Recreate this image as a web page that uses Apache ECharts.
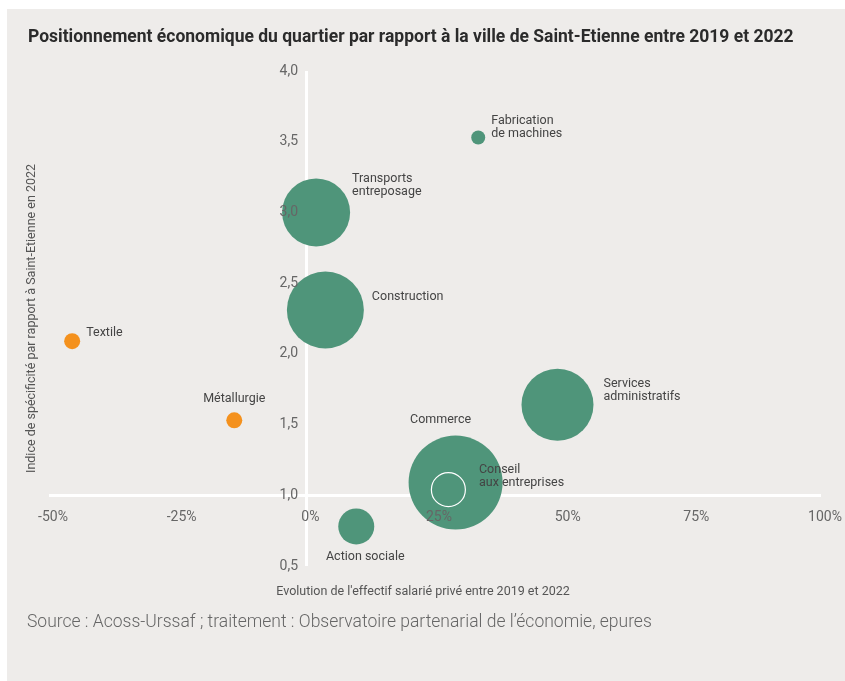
<!DOCTYPE html>
<html>
<head>
<meta charset="utf-8">
<script src="https://cdn.jsdelivr.net/npm/echarts@6/dist/echarts.min.js"></script>
<style>
  html, body { margin: 0; padding: 0; background: #fff; }
  #chart { width: 845px; height: 681px; }
</style>
</head>
<body>
<div id="chart"></div>
<script>
// données
const secteurs = ['Fabrication de machines', 'Transports entreposage', 'Construction', 'Textile',
  'Métallurgie', 'Services administratifs', 'Commerce', 'Conseil aux entreprises', 'Action sociale'];
const etiquettes = ['Fabrication\nde machines', 'Transports\nentreposage', 'Construction', 'Textile',
  'Métallurgie', 'Services\nadministratifs', 'Commerce', 'Conseil\naux entreprises', 'Action sociale'];
const evolution = [33.4, 1.9, 3.7, -45.5, -14.0, 48.8, 29.0, 27.6, 9.7];      // %
const specificite = [3.53, 3.0, 2.31, 2.09, 1.53, 1.64, 1.09, 1.04, 0.78];
const effectifs = [49, 1156, 1482, 64, 64, 1296, 2209, 289, 324];
const types = ['vert', 'vert', 'vert', 'orange', 'orange', 'vert', 'vert', 'contour', 'vert'];
const xTicks = [-50, -25, 0, 25, 50, 75, 100];
const yTicks = [0.5, 1.0, 1.5, 2.0, 2.5, 3.0, 3.5, 4.0];

const FONT = 'Roboto, "Open Sans", sans-serif';
const couleurs = { vert: '#4f957a', orange: '#f4911d', contour: 'transparent' };

// placement des étiquettes
const placeLabel = {
  'Fabrication de machines': { position: 'right', align: 'left', distance: 6, offset: [0, -10] },
  'Transports entreposage': { position: 'right', align: 'left', distance: 2, offset: [0, -27] },
  'Construction': { position: 'right', align: 'left', distance: 8, offset: [0, -13] },
  'Textile': { position: 'right', align: 'left', distance: 6, offset: [0, -8] },
  'Métallurgie': { position: 'top', align: 'center', distance: 7, offset: [0, 0] },
  'Services administratifs': { position: 'right', align: 'left', distance: 10, offset: [0, -14] },
  'Commerce': { position: 'top', align: 'center', distance: 9, offset: [-15, 0] },
  'Conseil aux entreprises': { position: 'right', align: 'left', distance: 13, offset: [0, -13] },
  'Action sociale': { position: 'bottom', align: 'center', distance: 6, offset: [9, 0] }
};

let points = secteurs.map(function (s, i) {
  let t = types[i];
  return {
    name: s,
    value: [evolution[i], specificite[i], effectifs[i]],
    itemStyle: {
      color: couleurs[t],
      opacity: 1,
      borderColor: t === 'contour' ? '#ffffff' : null,
      borderWidth: t === 'contour' ? 1.2 : 0
    },
    label: Object.assign({ formatter: etiquettes[i] }, placeLabel[s])
  };
});

const chart = echarts.init(document.getElementById('chart'));

const gridLeft = 49, yAxisX = 306;

chart.setOption({
  backgroundColor: '#ffffff',
  animation: false,
  textStyle: { fontFamily: FONT },
  graphic: [
    { type: 'rect', z: -10, shape: { x: 7, y: 9, width: 838, height: 672 }, style: { fill: '#eeecea' } },
    {
      type: 'text', left: 28, top: 29,
      style: {
        text: 'Positionnement économique du quartier par rapport à la ville de Saint-Etienne entre 2019 et 2022',
        font: 'bold 17.5px ' + FONT, fill: '#2b2b2b'
      }
    },
    {
      type: 'text', left: 27, top: 614,
      style: {
        text: "Source : Acoss-Urssaf ; traitement : Observatoire partenarial de l’économie, epures",
        font: '300 17.5px ' + FONT, fill: '#666666'
      }
    }
  ],
  grid: { left: gridLeft, right: 24, top: 71, bottom: 115, outerBoundsMode: 'none' },
  xAxis: {
    type: 'value', min: xTicks[0], max: xTicks[xTicks.length - 1], interval: 25,
    z: 5,
    name: "Evolution de l'effectif salarié privé entre 2019 et 2022",
    nameLocation: 'middle', nameGap: 19,
    nameTextStyle: { color: '#555', fontSize: 12.5, padding: [0, 24, 0, 0] },
    axisLine: { show: false },
    axisTick: { show: false },
    splitLine: { show: false },
    axisLabel: {
      margin: -56, color: '#666', fontSize: 14, padding: [0, 0, 0, 8],
      formatter: function (v) { return v + '%'; }
    }
  },
  yAxis: {
    type: 'value', min: yTicks[0], max: yTicks[yTicks.length - 1], interval: 0.5,
    z: 5,
    offset: gridLeft - yAxisX,
    name: 'Indice de spécificité par rapport à Saint-Etienne en 2022',
    nameLocation: 'middle', nameGap: 268,
    nameTextStyle: { color: '#555', fontSize: 12.5 },
    axisLine: { show: false },
    axisTick: { show: false },
    splitLine: { show: false },
    axisLabel: {
      margin: 8, color: '#666', fontSize: 14,
      formatter: function (v) { return v.toFixed(1).replace('.', ','); }
    }
  },
  series: [
    {
      // axes blancs : horizontal à 1,0 et vertical à 0 %
      type: 'line', data: [], z: 1, silent: true,
      markLine: {
        z: 1, silent: true, symbol: 'none', label: { show: false },
        lineStyle: { color: '#ffffff', width: 3, type: 'solid' },
        data: [{ yAxis: 1 }, { xAxis: 0 }]
      }
    },
    {
      type: 'scatter', z: 3,
      data: points,
      symbolSize: function (val) { return Math.sqrt(val[2]) * 2; },
      label: { show: true, color: '#444', fontSize: 12.5, lineHeight: 13 },
      emphasis: { disabled: true }
    }
  ]
});
</script>
</body>
</html>
